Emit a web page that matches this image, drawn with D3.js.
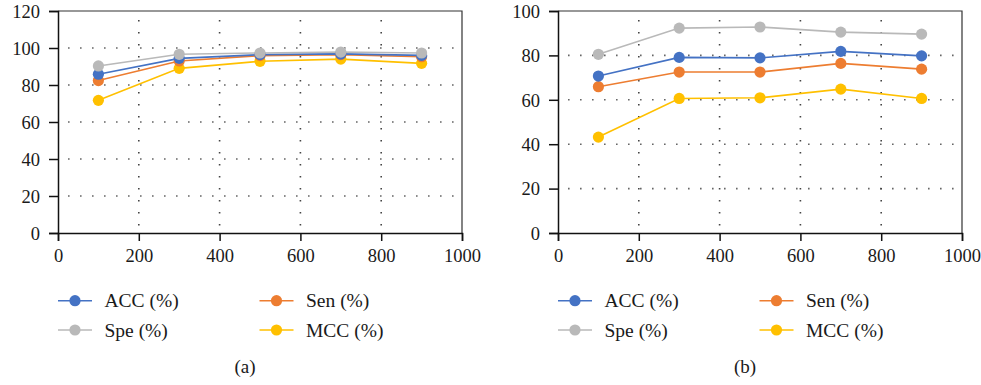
<!DOCTYPE html>
<html>
<head>
<meta charset="utf-8">
<script src="https://cdnjs.cloudflare.com/ajax/libs/d3/7.8.5/d3.min.js"></script>
<style>
  body { margin: 0; background: #fff; }
  svg, svg text { font-family: "Times New Roman", "Liberation Serif", Times, "DejaVu Serif", serif !important; }
</style>
</head>
<body>
<script>
// data
const xValues = [100, 300, 500, 700, 900];
const seriesNames = ["ACC (%)", "Sen (%)", "Spe (%)", "MCC (%)"];
const seriesColors = ["#4472c4", "#ed7d31", "#b9b9b9", "#ffc000"];

const accA = [85.8, 94.4, 96.4, 96.8, 96.0];
const senA = [82.4, 93.0, 95.9, 96.4, 95.3];
const speA = [90.3, 96.6, 97.3, 97.8, 97.3];
const mccA = [71.7, 89.0, 92.8, 94.0, 91.7];

const accB = [70.7, 79.1, 78.9, 81.8, 79.8];
const senB = [65.9, 72.5, 72.5, 76.4, 73.8];
const speB = [80.5, 92.3, 92.8, 90.5, 89.6];
const mccB = [43.2, 60.6, 60.9, 64.8, 60.6];

const xTicks = [0, 200, 400, 600, 800, 1000];
const yTicksA = [0, 20, 40, 60, 80, 100, 120];
const yTicksB = [0, 20, 40, 60, 80, 100];

const panels = [
    {left: 58, yMax: 120, yTicks: yTicksA, series: [accA, senA, speA, mccA], caption: "(a)"},
    {left: 558, yMax: 100, yTicks: yTicksB, series: [accB, senB, speB, mccB], caption: "(b)"},
];

const plotW = 404;
const plotTop = 11;
const plotBottom = 233;

const svg = d3.select("body").append("svg")
    .attr("width", 981)
    .attr("height", 385);

panels.forEach(function(p) {
    const x = d3.scaleLinear().domain([0, 1000]).range([p.left, p.left + plotW]);
    const y = d3.scaleLinear().domain([0, p.yMax]).range([plotBottom, plotTop]);
    const g = svg.append("g");

    // dotted grid
    g.append("g").selectAll("line")
        .data(p.yTicks.filter(d => d > 0 && d < p.yMax))
        .enter().append("line")
        .attr("x1", p.left + 10).attr("x2", p.left + plotW)
        .attr("y1", d => y(d)).attr("y2", d => y(d))
        .style("stroke", "#666")
        .style("stroke-width", 1.6)
        .style("stroke-dasharray", "1.6,10.4");

    g.append("g").selectAll("line")
        .data(xTicks.filter(d => d > 0 && d < 1000))
        .enter().append("line")
        .attr("x1", d => x(d)).attr("x2", d => x(d))
        .attr("y1", plotTop + 9).attr("y2", plotBottom)
        .style("stroke", "#444")
        .style("stroke-width", 1.6)
        .style("stroke-dasharray", "1.6,10.4");

    // frame: top and right
    g.append("path")
        .attr("d", "M" + p.left + "," + plotTop + "H" + (p.left + plotW) + "V" + plotBottom)
        .style("fill", "none")
        .style("stroke", "#333")
        .style("stroke-width", 1.2);

    // axes
    const yAxis = g.append("g")
        .attr("transform", "translate(" + p.left + ",0)")
        .call(d3.axisLeft(y).tickValues(p.yTicks).tickSize(9).tickPadding(9).tickFormat(d3.format("d")));
    const xAxis = g.append("g")
        .attr("transform", "translate(0," + plotBottom + ")")
        .call(d3.axisBottom(x).tickValues(xTicks).tickSize(8).tickPadding(8).tickFormat(d3.format("d")));

    [yAxis, xAxis].forEach(function(a) {
        a.attr("font-family", null);
        a.select(".domain").style("stroke", "#111").style("stroke-width", 1.5);
        a.selectAll(".tick line").style("stroke", "#111").style("stroke-width", 1.5);
        a.selectAll(".tick text")
            .style("font-size", "18.5px")
            .style("fill", "#1a1a1a");
    });
    yAxis.selectAll(".tick text").attr("dy", "0.34em");

    // lines and markers, drawn bottom-up so gray ends on top in panel a
    const line = d3.line().x((d, i) => x(xValues[i])).y(d => y(d));
    const order = [3, 1, 0, 2];
    order.forEach(function(si) {
        g.append("path")
            .datum(p.series[si])
            .attr("d", line)
            .style("fill", "none")
            .style("stroke", seriesColors[si])
            .style("stroke-width", 1.6);
    });
    order.forEach(function(si) {
        g.append("g").selectAll("circle")
            .data(p.series[si])
            .enter().append("circle")
            .attr("cx", (d, i) => x(xValues[i]))
            .attr("cy", d => y(d))
            .attr("r", 5.6)
            .style("fill", seriesColors[si]);
    });

    // legend
    const leg = g.append("g");
    seriesNames.forEach(function(name, i) {
        const lx = p.left + (i % 2) * 201.5;
        const ly = 300.7 + Math.floor(i / 2) * 29.3;
        leg.append("line")
            .attr("x1", lx).attr("x2", lx + 34)
            .attr("y1", ly).attr("y2", ly)
            .style("stroke", seriesColors[i])
            .style("stroke-width", 1.6);
        leg.append("circle")
            .attr("cx", lx + 17).attr("cy", ly)
            .attr("r", 5.6)
            .style("fill", seriesColors[i]);
        leg.append("text")
            .attr("x", lx + 46.5).attr("y", ly)
            .attr("dy", "0.34em")
            .style("font-size", "19.5px")
            .style("fill", "#1a1a1a")
            .text(name);
    });

    g.append("text")
        .attr("x", p.left + 187)
        .attr("y", 373)
        .attr("text-anchor", "middle")
        .style("font-size", "19px")
        .style("fill", "#1a1a1a")
        .text(p.caption);
});
</script>
</body>
</html>
